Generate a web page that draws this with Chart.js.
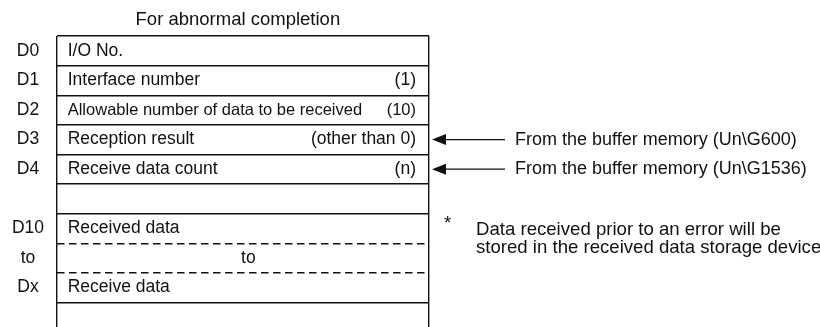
<!DOCTYPE html>
<html>
<head>
<meta charset="utf-8">
<script src="https://cdn.jsdelivr.net/npm/chart.js@4.4.1/dist/chart.umd.min.js"></script>
<style>
html, body { margin: 0; padding: 0; overflow: hidden; background: #fff; }
/* a little taller than the window: the last row runs off the bottom edge */
#wrap { position: relative; width: 820px; height: 332px; }
</style>
</head>
<body>
<div id="wrap"><canvas id="myChart"></canvas></div>
<script>
const heading = 'For abnormal completion';
const rowLabels = ['D0', 'D1', 'D2', 'D3', 'D4', '', 'D10', 'to', 'Dx', ''];
const cellNames = ['I/O No.', 'Interface number', 'Allowable number of data to be received',
    'Reception result', 'Receive data count', '', 'Received data', '', 'Receive data', ''];
const cellValues = ['', '(1)', '(10)', '(other than 0)', '(n)', '', '', '', '', ''];
const cellMiddle = ['', '', '', '', '', '', '', 'to', '', ''];
const cellSpan = [1, 1, 1, 1, 1, 1, 1, 1, 1, 1];
// line above each row
const rowTopLine = ['solid', 'solid', 'solid', 'solid', 'solid', 'solid', 'solid', 'dash', 'dash', 'solid'];
const sourceNotes = ['', '', '', 'From the buffer memory (Un\\G600)', 'From the buffer memory (Un\\G1536)',
    '', '', '', '', ''];
const footnote = ['Data received prior to an error will be', 'stored in the received data storage device'];
const footnoteRow = 6;

const FONT = '"Liberation Sans", Arial, sans-serif';
const INK = '#111';

const cellText = {
    id: 'cellText',
    afterDatasetsDraw(chart) {
        const ctx = chart.ctx;
        const meta = chart.getDatasetMeta(0);
        ctx.save();
        ctx.fillStyle = INK;
        ctx.strokeStyle = INK;
        ctx.textBaseline = 'middle';
        meta.data.forEach((bar, i) => {
            const left = bar.base;
            const right = bar.x;
            const y = bar.y;
            ctx.font = (i === 2 ? '16.5px ' : '17.5px ') + FONT;
            ctx.textAlign = 'left';
            ctx.fillText(cellNames[i], left + 10, y);
            ctx.textAlign = 'right';
            ctx.fillText(cellValues[i], right - 13, y);
            ctx.textAlign = 'center';
            ctx.fillText(cellMiddle[i], (left + right) / 2 + 5, y);

            if (sourceNotes[i]) {
                // arrow pointing back at the cell
                ctx.beginPath();
                ctx.moveTo(right + 3, y);
                ctx.lineTo(right + 17, y - 5.5);
                ctx.lineTo(right + 17, y + 5.5);
                ctx.closePath();
                ctx.fill();
                ctx.lineWidth = 1.2;
                ctx.beginPath();
                ctx.moveTo(right + 16, y);
                ctx.lineTo(right + 76, y);
                ctx.stroke();
                ctx.font = '18px ' + FONT;
                ctx.textAlign = 'left';
                ctx.fillText(sourceNotes[i], right + 86, y);
            }
        });

        const anchor = meta.data[footnoteRow];
        ctx.font = '18.6px ' + FONT;
        ctx.textAlign = 'left';
        ctx.fillText('*', anchor.x + 15, anchor.y - 5);
        ctx.fillText(footnote[0], anchor.x + 47, anchor.y + 1);
        ctx.fillText(footnote[1], anchor.x + 47, anchor.y + 19.5);
        ctx.restore();
    }
};

const ctx = document.getElementById('myChart').getContext('2d');
const chart = new Chart(ctx, {
    type: 'bar',
    data: {
        labels: rowLabels,
        datasets: [{
            data: cellSpan,
            label: '',
            backgroundColor: 'rgba(0, 0, 0, 0)',
            borderWidth: 0,
            barPercentage: 1,
            categoryPercentage: 1
        }]
    },
    plugins: [cellText],
    options: {
        indexAxis: 'y',
        responsive: true,
        maintainAspectRatio: false,
        animation: false,
        events: [],
        layout: {
            padding: { left: 0, right: 391, top: 0, bottom: 0 }
        },
        plugins: {
            legend: { display: false },
            tooltip: { enabled: false }
        },
        scales: {
            x: {
                type: 'linear',
                position: 'top',
                min: 0,
                max: 1,
                ticks: { display: false, stepSize: 1 },
                grid: { color: INK, lineWidth: 1.4, drawTicks: false },
                border: { display: false },
                title: {
                    display: true,
                    text: heading + '  ',
                    color: INK,
                    font: { family: FONT, size: 18.5 },
                    padding: { top: 9, bottom: 0 }
                },
                afterFit(scale) { scale.height = 36; }
            },
            y: {
                type: 'category',
                ticks: {
                    color: INK,
                    font: { family: FONT, size: 17.5 },
                    crossAlign: 'center',
                    padding: 13
                },
                grid: {
                    // no index = bottom edge, left open
                    color: (c) => c.index === undefined ? 'rgba(0, 0, 0, 0)' : INK,
                    lineWidth: 1.4,
                    drawTicks: false,
                    offset: true
                },
                border: {
                    display: false,
                    dash: (c) => rowTopLine[c.index] === 'dash' ? [7.5, 4.5] : []
                },
                afterFit(scale) {
                    scale.width = 57;
                    // labels sit inside their rows, no extra room needed
                    scale.paddingTop = 0;
                    scale.paddingBottom = 0;
                }
            }
        }
    }
});
</script>
</body>
</html>
